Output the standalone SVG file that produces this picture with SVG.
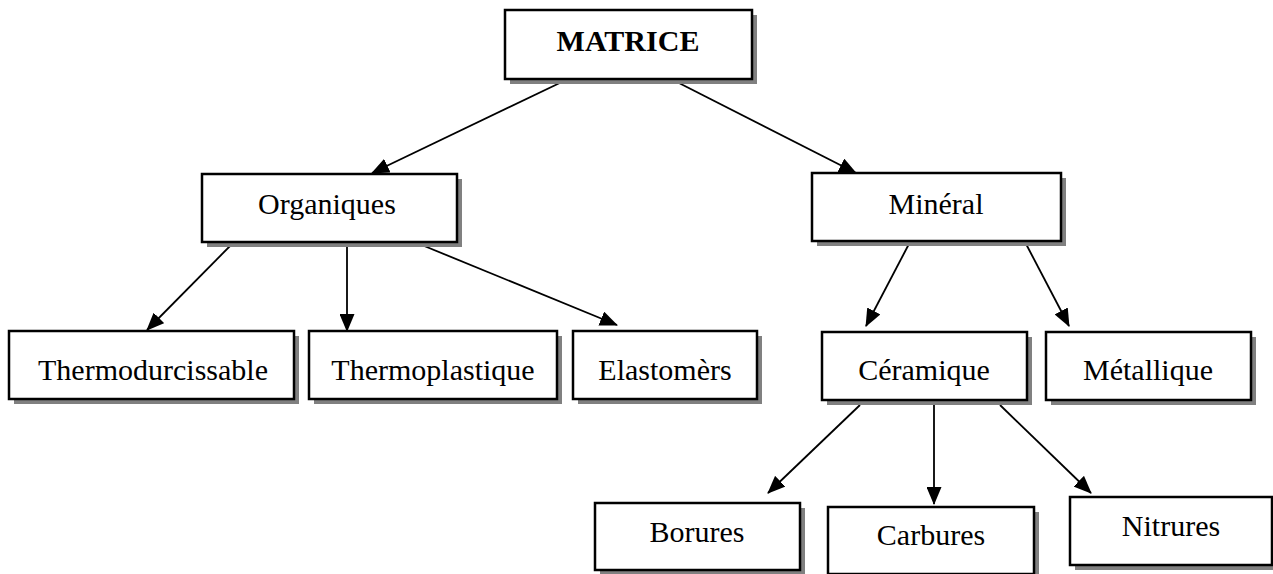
<svg xmlns="http://www.w3.org/2000/svg" width="1273" height="574" viewBox="0 0 1273 574">
<style>
.sh{fill:#808080;stroke:none}
.bx{fill:#fff;stroke:#000;stroke-width:2.5}
.t{font-family:"Liberation Serif","Times New Roman",serif;font-size:30px;fill:#000;text-anchor:middle}
.b{font-weight:bold}
.c{stroke:#000;stroke-width:1.8;fill:none;marker-end:url(#ah)}
</style>
<defs>
<marker id="ah" markerWidth="18" markerHeight="15" refX="17" refY="7.5" orient="auto" markerUnits="userSpaceOnUse" viewBox="0 0 18 15">
<path d="M0,0 L18,7.5 L0,15 z" fill="#000"/>
</marker>
</defs>
<rect width="1273" height="574" fill="#fff"/>
<g id="connectors">
<line class="c" x1="566" y1="80" x2="372" y2="173"/>
<line class="c" x1="677" y1="82" x2="856" y2="173"/>
<line class="c" x1="233" y1="243" x2="147" y2="330"/>
<line class="c" x1="347" y1="243" x2="347" y2="331"/>
<line class="c" x1="417" y1="243" x2="617" y2="325"/>
<line class="c" x1="910" y1="242" x2="866" y2="326"/>
<line class="c" x1="1025" y1="242" x2="1069" y2="326"/>
<line class="c" x1="860" y1="405" x2="768" y2="493"/>
<line class="c" x1="934" y1="405" x2="934" y2="504"/>
<line class="c" x1="1000" y1="405" x2="1091" y2="493"/>
</g>
<g id="n-matrice"><rect class="sh" x="510" y="15" width="247" height="69"/><rect class="bx" x="505" y="10" width="247" height="69"/><text class="t b" x="628" y="51">MATRICE</text></g>
<g id="n-organiques"><rect class="sh" x="207" y="179" width="255" height="68"/><rect class="bx" x="202" y="174" width="255" height="68"/><text class="t" x="327" y="214">Organiques</text></g>
<g id="n-mineral"><rect class="sh" x="817" y="178" width="249" height="68"/><rect class="bx" x="812" y="173" width="249" height="68"/><text class="t" x="936" y="214">Minéral</text></g>
<g id="n-thermodurcissable"><rect class="sh" x="14" y="336" width="285" height="68"/><rect class="bx" x="9" y="331" width="285" height="68"/><text class="t" x="153" y="380">Thermodurcissable</text></g>
<g id="n-thermoplastique"><rect class="sh" x="314" y="336" width="248" height="68"/><rect class="bx" x="309" y="331" width="248" height="68"/><text class="t" x="433" y="380">Thermoplastique</text></g>
<g id="n-elastomers"><rect class="sh" x="578" y="336" width="184" height="68"/><rect class="bx" x="573" y="331" width="184" height="68"/><text class="t" x="665" y="380">Elastomèrs</text></g>
<g id="n-ceramique"><rect class="sh" x="827" y="337" width="205" height="68"/><rect class="bx" x="822" y="332" width="205" height="68"/><text class="t" x="924" y="380">Céramique</text></g>
<g id="n-metallique"><rect class="sh" x="1051" y="337" width="205" height="68"/><rect class="bx" x="1046" y="332" width="205" height="68"/><text class="t" x="1148" y="380">Métallique</text></g>
<g id="n-borures"><rect class="sh" x="600" y="508" width="205" height="67"/><rect class="bx" x="595" y="503" width="205" height="67"/><text class="t" x="697" y="542">Borures</text></g>
<g id="n-carbures"><rect class="sh" x="833" y="512" width="206" height="67"/><rect class="bx" x="828" y="507" width="206" height="67"/><text class="t" x="931" y="545">Carbures</text></g>
<g id="n-nitrures"><rect class="sh" x="1075" y="502" width="202" height="68"/><rect class="bx" x="1070" y="497" width="202" height="68"/><text class="t" x="1171" y="536">Nitrures</text></g>
</svg>
